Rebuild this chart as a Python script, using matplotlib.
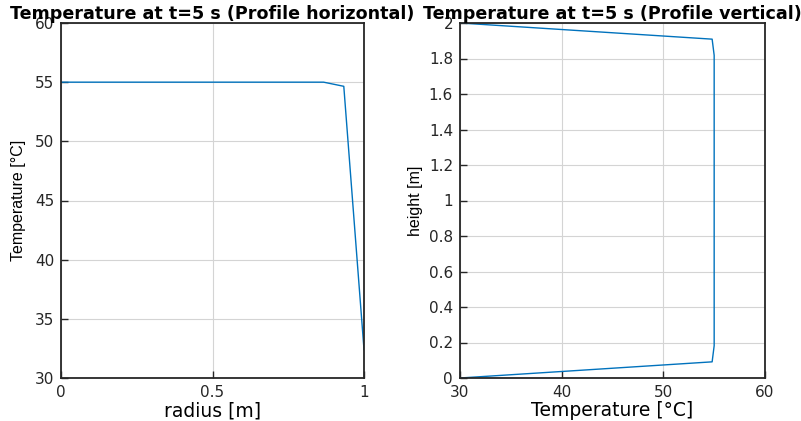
import matplotlib
matplotlib.use("Agg")
import matplotlib.pyplot as plt

# horizontal profile (radius vs temperature)
radius = [0.0, 0.8667, 0.9333, 1.0]
temp_h = [55.0, 55.0, 54.65, 32.4]

# vertical profile (temperature vs height)
temp_v = [30.0, 54.8, 55.0, 55.0, 54.8, 30.0]
height = [0.0, 0.091, 0.182, 1.818, 1.909, 2.0]

LINE = "#0072bd"
plt.rcParams["font.family"] = ["DejaVu Sans"]

fig = plt.figure(figsize=(8.01, 4.21), dpi=100)
W, H = 801, 421
ax1 = fig.add_axes([61 / W, 1 - 378 / H, 303 / W, 355 / H])
ax2 = fig.add_axes([460 / W, 1 - 378 / H, 305 / W, 355 / H])

NARROW = ["Liberation Sans", "DejaVu Sans"]


def style(ax):
    ax.grid(True, color="#d4d4d4", lw=0.8)
    ax.set_axisbelow(True)
    ax.tick_params(direction="in", length=5, width=1, labelsize=11,
                   colors="#262626", top=False, right=False, pad=5)
    for s in ax.spines.values():
        s.set_color("#262626")
        s.set_linewidth(1.3)


ax1.plot(radius, temp_h, color=LINE, lw=1)
ax1.set_xlim(0, 1)
ax1.set_ylim(30, 60)
ax1.set_xticks([0, 0.5, 1])
ax1.set_xticklabels(["0", "0.5", "1"])
ax1.set_yticks(range(30, 61, 5))
ax1.set_xlabel("radius [m]", fontsize=13.5, labelpad=1)
ax1.set_ylabel("Temperature [°C]", fontsize=11.5, family=NARROW, labelpad=6)
ax1.set_title("Temperature at t=5 s (Profile horizontal)", fontsize=12.6,
              fontweight="bold", pad=3)
style(ax1)

ax2.plot(temp_v, height, color=LINE, lw=1)
ax2.set_xlim(30, 60)
ax2.set_ylim(0, 2)
ax2.set_xticks([30, 40, 50, 60])
yt = [0, 0.2, 0.4, 0.6, 0.8, 1, 1.2, 1.4, 1.6, 1.8, 2]
ax2.set_yticks(yt)
ax2.set_yticklabels([f"{v:g}" for v in yt])
ax2.set_xlabel("Temperature [°C]", fontsize=13.5, labelpad=1)
ax2.set_ylabel("height [m]", fontsize=11.5, family=NARROW, labelpad=4)
ax2.set_title("Temperature at t=5 s (Profile vertical)", fontsize=12.6,
              fontweight="bold", pad=3)
style(ax2)

fig.savefig("out.png", dpi=100)
